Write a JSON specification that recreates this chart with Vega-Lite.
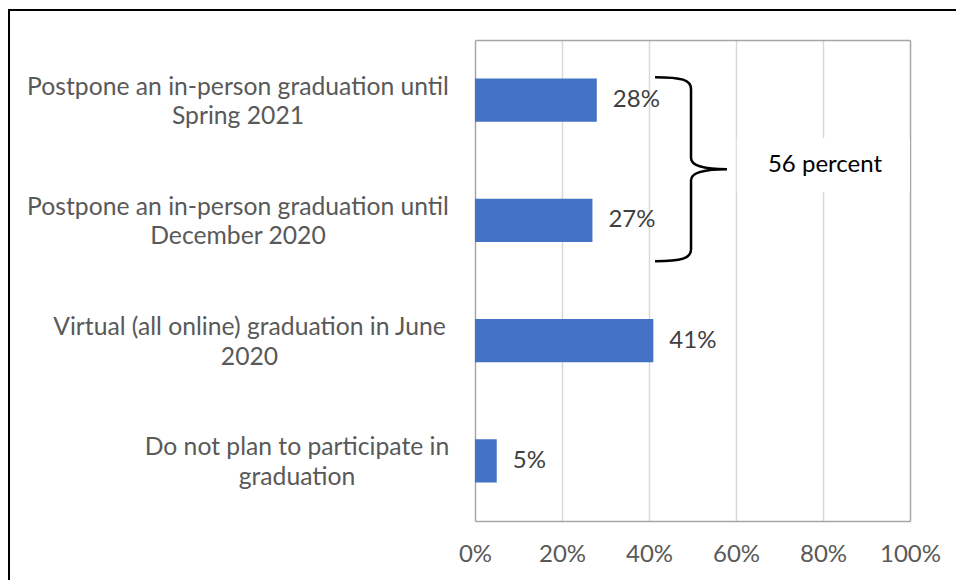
{
  "$schema": "https://vega.github.io/schema/vega-lite/v6.json",
  "autosize": {"type": "none"},
  "padding": {"left": 9, "top": 10, "right": -10, "bottom": -10},
  "width": 957,
  "height": 580,
  "background": "white",
  "config": {
    "view": {"stroke": "#000000", "strokeWidth": 2},
    "font": "Lato",
    "axis": {"labelFont": "Lato"},
    "text": {"font": "Lato"}
  },
  "data": {
    "values": [
      {"response": "Postpone an in-person graduation until Spring 2021", "share": 0.28},
      {"response": "Postpone an in-person graduation until December 2020", "share": 0.27},
      {"response": "Virtual (all online) graduation in June 2020", "share": 0.41},
      {"response": "Do not plan to participate in graduation", "share": 0.05}
    ]
  },
  "resolve": {"axis": {"x": "independent", "y": "independent"}},
  "layer": [
    {
      "mark": {"type": "bar", "color": "#4472C4"},
      "encoding": {
        "y": {
          "field": "response",
          "type": "nominal",
          "sort": null,
          "scale": {
            "domain": [
              "Postpone an in-person graduation until Spring 2021",
              "Postpone an in-person graduation until December 2020",
              "Virtual (all online) graduation in June 2020",
              "Do not plan to participate in graduation"
            ],
            "range": [30, 511],
            "paddingInner": 0.64,
            "paddingOuter": 0.32
          },
          "axis": {
            "orient": "left",
            "offset": -466,
            "title": null,
            "domain": true,
            "domainColor": "#a6a6a6",
            "domainWidth": 1.5,
            "ticks": false,
            "tickSize": 0,
            "grid": false,
            "labelFontSize": 24.7,
            "labelColor": "#595959",
            "labelAlign": "center",
            "labelBaseline": "middle",
            "labelLineHeight": 29.5,
            "labelOffset": -12.5,
            "labelLimit": 0,
            "labelOverlap": false,
            "labelPadding": {
              "condition": [
                {"test": "datum.value == 'Virtual (all online) graduation in June 2020'", "value": 226},
                {"test": "datum.value == 'Do not plan to participate in graduation'", "value": 178.5}
              ],
              "value": 237.5
            },
            "labelExpr": "datum.value == 'Postpone an in-person graduation until Spring 2021' ? ['Postpone an in-person graduation until', 'Spring 2021'] : datum.value == 'Postpone an in-person graduation until December 2020' ? ['Postpone an in-person graduation until', 'December 2020'] : datum.value == 'Virtual (all online) graduation in June 2020' ? ['Virtual (all online) graduation in June', '2020'] : ['Do not plan to participate in', 'graduation']"
          }
        },
        "x": {
          "field": "share",
          "type": "quantitative",
          "scale": {"domain": [0, 1], "range": [466, 901], "nice": false, "zero": true},
          "axis": {
            "orient": "bottom",
            "offset": -69,
            "title": null,
            "values": [0, 0.2, 0.4, 0.6, 0.8, 1],
            "format": ".0%",
            "grid": false,
            "domain": true,
            "domainColor": "#a6a6a6",
            "domainWidth": 1.5,
            "ticks": false,
            "tickSize": 0,
            "labelFontSize": 24,
            "labelColor": "#595959",
            "labelBaseline": "middle",
            "labelPadding": 33,
            "labelFlush": false,
            "labelOverlap": false,
            "labelBound": false
          }
        }
      }
    },
    {
      "mark": {"type": "text", "align": "left", "baseline": "middle", "dx": 16, "fontSize": 24, "color": "#404040"},
      "encoding": {
        "y": {
          "field": "response",
          "type": "nominal",
          "sort": null,
          "axis": {
            "orient": "right",
            "offset": -56,
            "title": null,
            "domain": true,
            "domainColor": "#a6a6a6",
            "domainWidth": 1.5,
            "labels": false,
            "ticks": false,
            "grid": false,
            "zindex": 0
          }
        },
        "x": {
          "field": "share",
          "type": "quantitative",
          "axis": {
            "orient": "top",
            "offset": -30,
            "title": null,
            "values": [0.2, 0.4, 0.6, 0.8],
            "grid": true,
            "gridColor": "#d9d9d9",
            "gridWidth": 1.5,
            "domain": true,
            "domainColor": "#a6a6a6",
            "domainWidth": 1.5,
            "labels": false,
            "ticks": false,
            "zindex": 0
          }
        },
        "text": {"field": "share", "type": "quantitative", "format": ".0%"}
      }
    },
    {
      "data": {"values": [{"note": "56 percent"}]},
      "mark": {
        "type": "point",
        "shape": "M -0.391 -1 C -0.1 -1 0 -0.97 0 -0.87 L 0 -0.12 C 0 -0.04 0.12 0 0.391 0 M 0.391 0 C 0.12 0 0 0.04 0 0.12 L 0 0.87 C 0 0.97 -0.1 1 -0.391 1",
        "size": 33856,
        "filled": false,
        "stroke": "#000000",
        "strokeWidth": 2.5,
        "opacity": 1,
        "yOffset": 69
      },
      "encoding": {
        "x": {"datum": 0.4966, "type": "quantitative", "axis": null},
        "y": {"datum": "Postpone an in-person graduation until Spring 2021", "type": "nominal", "axis": null}
      }
    },
    {
      "data": {"values": [{"note": "56 percent"}]},
      "mark": {"type": "bar", "color": "#ffffff", "height": 54, "yOffset": 65, "y2Offset": 65},
      "encoding": {
        "x": {"datum": 0.602, "type": "quantitative", "axis": null},
        "x2": {"datum": 1},
        "y": {"datum": "Postpone an in-person graduation until Spring 2021", "type": "nominal", "axis": null}
      }
    },
    {
      "data": {"values": [{"note": "56 percent"}]},
      "mark": {"type": "text", "align": "center", "baseline": "middle", "fontSize": 24, "color": "#000000", "yOffset": 65},
      "encoding": {
        "x": {"datum": 0.8046, "type": "quantitative", "axis": null},
        "y": {"datum": "Postpone an in-person graduation until Spring 2021", "type": "nominal", "axis": null},
        "text": {"field": "note"}
      }
    }
  ]
}
